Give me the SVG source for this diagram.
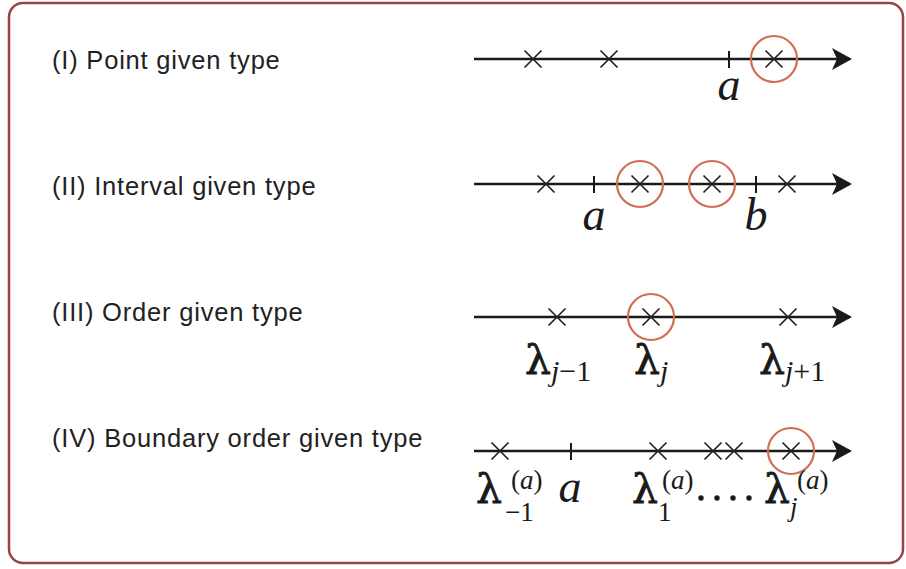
<svg xmlns="http://www.w3.org/2000/svg" width="906" height="569" viewBox="0 0 906 569">
<style>
.lbl{font-family:"Liberation Sans",Arial,sans-serif;font-size:25.5px;letter-spacing:0.8px;fill:#222}
.axis{stroke:#1a1a1a;stroke-width:2.5;fill:none}
.x{stroke:#222;stroke-width:1.7;fill:none}
.tk{stroke:#1a1a1a;stroke-width:2;fill:none}
.ring{stroke:#d06f50;stroke-width:2.2;fill:none}
.m{font-family:"Liberation Serif","Times New Roman",serif;fill:#1a1a1a}
.l{font-family:"DejaVu Serif","Liberation Serif",serif;fill:#1a1a1a;font-size:41px;stroke:#1a1a1a;stroke-width:0.8}
.it{font-style:italic}
</style>
<defs>
<marker id="ah" viewBox="0 0 20 22" refX="18" refY="11" markerWidth="20" markerHeight="22" markerUnits="userSpaceOnUse" orient="auto">
<path d="M0,0 L20,11 L0,22 L5,11 Z" fill="#1a1a1a"/>
</marker>
<path id="xm" d="M-8.5,-8.5 L8.5,8.5 M-8.5,8.5 L8.5,-8.5"/>
</defs>
<rect x="9" y="3" width="894" height="560" rx="14" fill="#fff" stroke="#9a4446" stroke-width="2.5"/>

<g id="row1">
<text class="lbl" x="52" y="69">(I) Point given type</text>
<line class="axis" x1="474" y1="59" x2="850" y2="59" marker-end="url(#ah)"/>
<use href="#xm" class="x" x="533" y="59"/>
<use href="#xm" class="x" x="609" y="59"/>
<line class="tk" x1="729" y1="51" x2="729" y2="68"/>
<use href="#xm" class="x" x="774" y="59"/>
<circle class="ring" cx="774" cy="59" r="23"/>
<text class="m it" x="729" y="100" font-size="46" text-anchor="middle">a</text>
</g>

<g id="row2">
<text class="lbl" x="52" y="195">(II) Interval given type</text>
<line class="axis" x1="474" y1="184" x2="850" y2="184" marker-end="url(#ah)"/>
<use href="#xm" class="x" x="546" y="184"/>
<line class="tk" x1="594" y1="176" x2="594" y2="193"/>
<use href="#xm" class="x" x="640" y="184"/>
<circle class="ring" cx="640" cy="184" r="23"/>
<use href="#xm" class="x" x="712" y="184"/>
<circle class="ring" cx="712" cy="184" r="23"/>
<line class="tk" x1="756" y1="176" x2="756" y2="193"/>
<use href="#xm" class="x" x="787" y="184"/>
<text class="m it" x="594" y="230" font-size="46" text-anchor="middle">a</text>
<text class="m it" x="756" y="230" font-size="46" text-anchor="middle">b</text>
</g>

<g id="row3">
<text class="lbl" x="52" y="321">(III) Order given type</text>
<line class="axis" x1="474" y1="317" x2="850" y2="317" marker-end="url(#ah)"/>
<use href="#xm" class="x" x="557" y="317"/>
<use href="#xm" class="x" x="651" y="317"/>
<circle class="ring" cx="651" cy="317" r="23"/>
<use href="#xm" class="x" x="788" y="317"/>
<text class="l" x="525" y="374">λ</text>
<text class="m" x="551" y="381" font-size="30"><tspan class="it">j</tspan>−1</text>
<text class="l" x="634" y="374">λ</text>
<text class="m it" x="660" y="381" font-size="30">j</text>
<text class="l" x="759" y="374">λ</text>
<text class="m" x="785" y="381" font-size="30"><tspan class="it">j</tspan>+1</text>
</g>

<g id="row4">
<text class="lbl" x="52" y="447">(IV) Boundary order given type</text>
<line class="axis" x1="474" y1="451" x2="850" y2="451" marker-end="url(#ah)"/>
<use href="#xm" class="x" x="500" y="451"/>
<line class="tk" x1="571" y1="443" x2="571" y2="460"/>
<use href="#xm" class="x" x="658" y="451"/>
<use href="#xm" class="x" x="713" y="451"/>
<use href="#xm" class="x" x="734" y="451"/>
<use href="#xm" class="x" x="791" y="451"/>
<circle class="ring" cx="791" cy="451" r="23"/>
<text class="l" x="476" y="503">λ</text>
<text class="m" x="511" y="489" font-size="27">(<tspan class="it">a</tspan>)</text>
<text class="m" x="505" y="521" font-size="27">−1</text>
<text class="m it" x="570" y="502" font-size="46" text-anchor="middle">a</text>
<text class="l" x="632" y="503">λ</text>
<text class="m" x="662" y="489" font-size="27">(<tspan class="it">a</tspan>)</text>
<text class="m" x="658" y="521" font-size="27">1</text>
<circle cx="701" cy="498" r="2.7" fill="#1a1a1a"/>
<circle cx="717" cy="498" r="2.7" fill="#1a1a1a"/>
<circle cx="733" cy="498" r="2.7" fill="#1a1a1a"/>
<circle cx="749" cy="498" r="2.7" fill="#1a1a1a"/>
<text class="l" x="764" y="503">λ</text>
<text class="m" x="797" y="489" font-size="27">(<tspan class="it">a</tspan>)</text>
<text class="m it" x="790" y="516" font-size="27">j</text>
</g>
</svg>
